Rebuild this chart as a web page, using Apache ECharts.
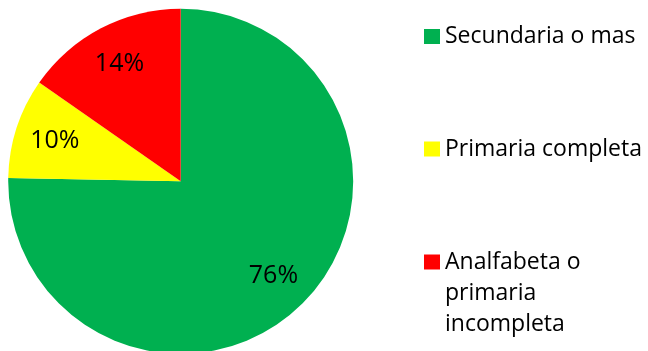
<!DOCTYPE html>
<html>
<head>
<meta charset="utf-8">
<script src="https://cdn.jsdelivr.net/npm/echarts@6/dist/echarts.min.js"></script>
<style>
html,body{margin:0;padding:0;background:#fff;}
#chart{width:648px;height:351px;}
</style>
</head>
<body>
<div id="chart"></div>
<script>
var categories = ['Secundaria o mas', 'Primaria completa', 'Analfabeta o\nprimaria\nincompleta'];
var values = [75.3, 9.4, 15.3];
var labelTexts = ['76%', '10%', '14%'];
var colors = ['#00B050', '#FFFF00', '#FF0000'];

var FONT = 'Open Sans';
var R = 172.5;
var CENTER = [180.7, 181.3];

var data = categories.map(function (c, i) {
  return { name: c, value: values[i], itemStyle: { color: colors[i] } };
});
var labelData = categories.map(function (c, i) {
  return { name: c, value: values[i], itemStyle: { color: 'transparent' } };
});

function legendFor(i, top, topAligned) {
  var ts = { fontFamily: FONT, fontSize: 23, color: '#000', lineHeight: 31 };
  return {
    orient: 'vertical',
    left: 424,
    top: top,
    padding: 0,
    itemWidth: 16,
    itemHeight: 15,
    icon: 'rect',
    selectedMode: false,
    formatter: function (name) {
      // first line of a wrapped name sits level with the marker
      if (!topAligned) return name;
      var n = name.split('\n').length - 1;
      return new Array(n + 1).join('\n') + name;
    },
    data: [{ name: categories[i] }],
    textStyle: ts
  };
}

var chart = echarts.init(document.getElementById('chart'), null, { renderer: 'canvas' });
chart.setOption({
  animation: false,
  backgroundColor: '#fff',
  legend: [
    legendFor(0, 21, false),
    legendFor(1, 133.5, false),
    legendFor(2, 184.5, true)
  ],
  series: [
    {
      type: 'pie',
      center: CENTER,
      radius: R,
      startAngle: 90,
      clockwise: true,
      label: { show: false },
      labelLine: { show: false },
      emphasis: { disabled: true },
      silent: true,
      data: data
    },
    {
      type: 'pie',
      center: CENTER,
      radius: [R * 0.5, R],
      startAngle: 90,
      clockwise: true,
      silent: true,
      emphasis: { disabled: true },
      labelLine: { show: false },
      label: {
        show: true,
        position: 'inside',
        fontFamily: FONT,
        fontSize: 25,
        color: '#000',
        formatter: function (p) { return labelTexts[p.dataIndex]; }
      },
      data: labelData
    }
  ]
});
</script>
</body>
</html>
